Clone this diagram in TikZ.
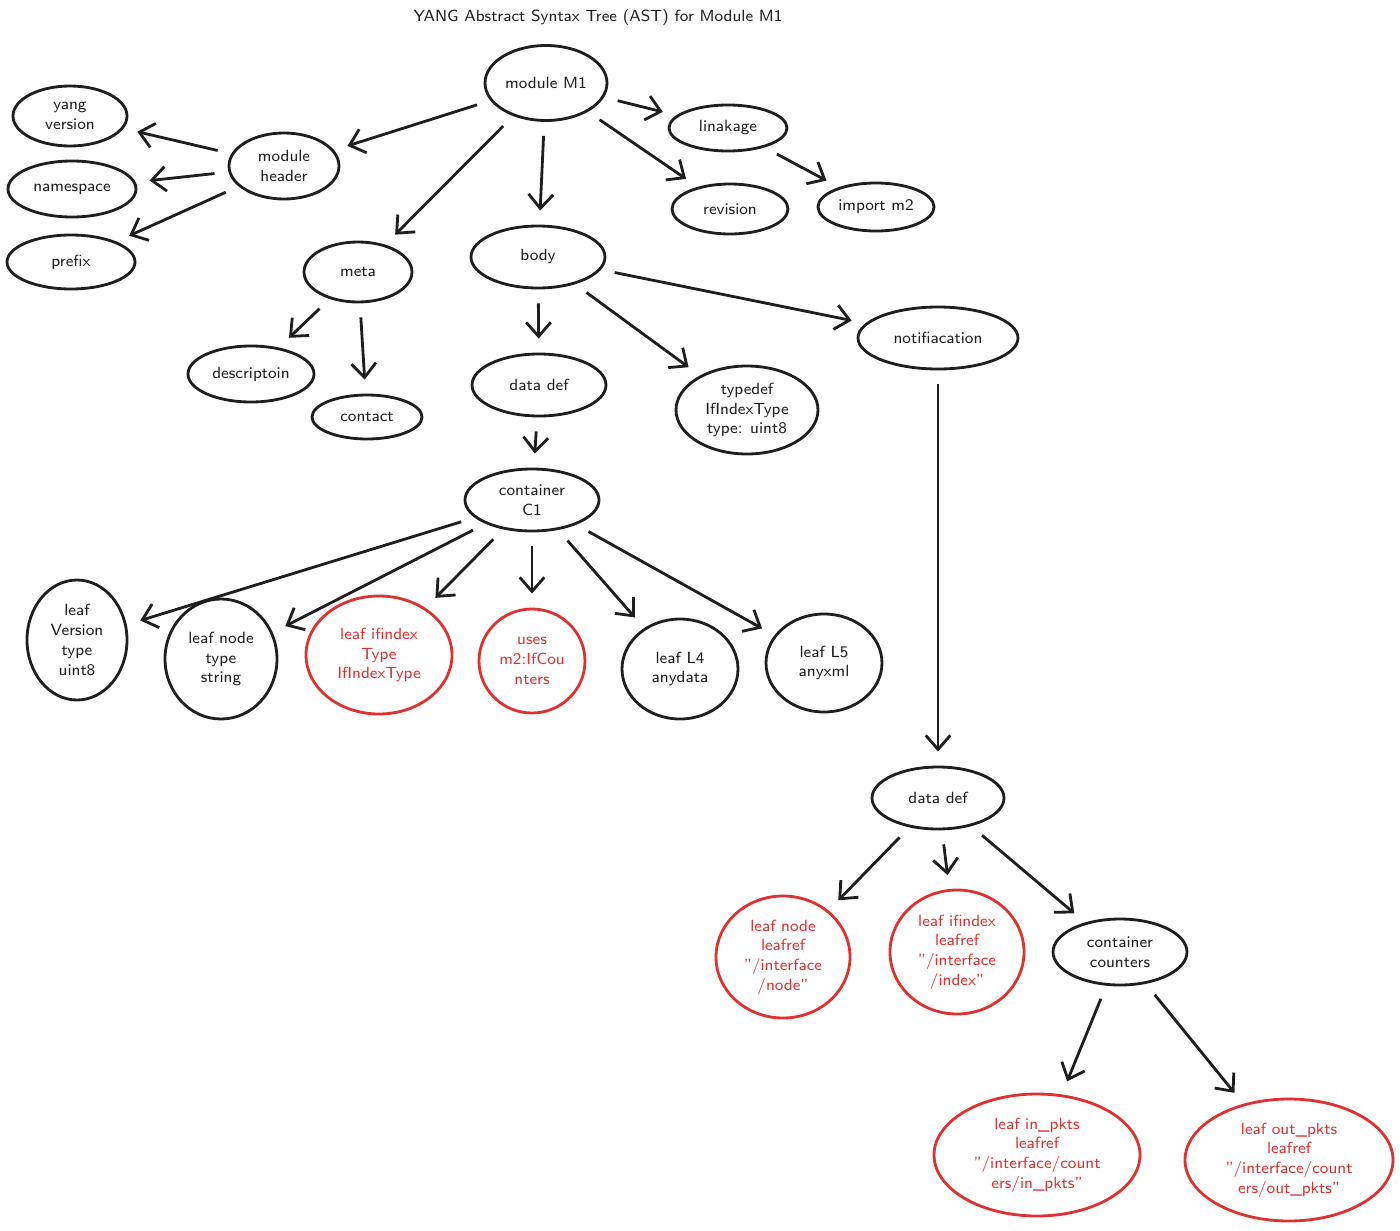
\documentclass[tikz,border=0pt]{standalone}
\usepackage{tikz}
\usetikzlibrary{shapes.geometric,arrows.meta}
\definecolor{hred}{RGB}{224,49,49}
\definecolor{hink}{RGB}{30,30,30}
\begin{document}
\begin{tikzpicture}[x=0.01cm,y=-0.01cm,
  every node/.style={font=\sffamily\fontsize{4.6}{5.6}\selectfont,align=center,text=hink},
  el/.style n args={2}{draw=hink,thick,ellipse,inner sep=0pt,minimum width=#1*0.01cm,minimum height=#2*0.01cm},
  rel/.style n args={2}{el={#1}{#2},draw=hred,text=hred},
  arr/.style={->,>={Straight Barb[length=4pt,width=7pt]},thick,draw=hink,shorten <=4pt,shorten >=4pt}]
\useasboundingbox (0,0) rectangle (1400,1230);
\node (title) at (598,17) {YANG Abstract Syntax Tree (AST) for Module M1};
% top part
\node[el={122}{75}] (m1) at (546,83) {module M1};
\node[el={110}{66}] (header) at (284,166) {module\\header};
\node[el={114}{60}] (yang) at (70,116) {yang\\version};
\node[el={128}{56}] (ns) at (72,189) {namespace};
\node[el={128}{54}] (prefix) at (71,262) {prefix};
\node[el={108}{60}] (meta) at (358,272) {meta};
\node[el={134}{62}] (body) at (538,257) {body};
\node[el={118}{46}] (link) at (728,128) {linakage};
\node[el={116}{50}] (rev) at (730,209) {revision};
\node[el={116}{48}] (import) at (876,207) {import m2};
\node[el={126}{56}] (desc) at (251,374) {descriptoin};
\node[el={110}{44}] (contact) at (367,417) {contact};
\node[el={134}{62}] (dd1) at (539,385) {data def};
\node[el={142}{88}] (typedef) at (747,410) {typedef\\IfIndexType\\type: uint8};
\node[el={160}{62}] (notif) at (938,338) {notifiacation};
% container C1
\node[el={134}{62}] (c1) at (532,500) {container\\C1};
\node[el={100}{120}] (l1) at (77,640) {leaf\\Version\\type\\uint8};
\node[el={112}{120}] (l2) at (221,659) {leaf node\\type\\string};
\node[rel={146}{118}] (l3) at (379,655) {leaf ifindex\\Type\\IfIndexType};
\node[rel={106}{104}] (l4) at (532,661) {uses\\m2:IfCou\\nters};
\node[el={116}{100}] (l5) at (680,669) {leaf L4\\anydata};
\node[el={116}{98}] (l6) at (824,663) {leaf L5\\anyxml};
% notification part
\node[el={132}{62}] (dd2) at (938,798) {data def};
\node[rel={134}{122}] (r1) at (783,957) {leaf node\\leafref\\"/interface\\/node"};
\node[rel={134}{124}] (r2) at (957,952) {leaf ifindex\\leafref\\"/interface\\/index"};
\node[el={134}{66}] (cc) at (1120,952) {container\\counters};
\node[rel={206}{122}] (r3) at (1037,1155) {leaf in\_pkts\\leafref\\"/interface/count\\ers/in\_pkts"};
\node[rel={208}{122}] (r4) at (1289,1160) {leaf out\_pkts\\leafref\\"/interface/count\\ers/out\_pkts"};
% connectors
\foreach \a/\b in {m1/header,m1/meta,m1/body,m1/link,m1/rev,link/import,
  header/yang,header/ns,header/prefix,meta/desc,meta/contact,
  body/dd1,body/typedef,body/notif,dd1/c1,
  c1/l1,c1/l2,c1/l3,c1/l4,c1/l5,c1/l6,
  notif/dd2,dd2/r1,dd2/r2,dd2/cc,cc/r3,cc/r4}
  \draw[arr] (\a) -- (\b);
\end{tikzpicture}
\end{document}
